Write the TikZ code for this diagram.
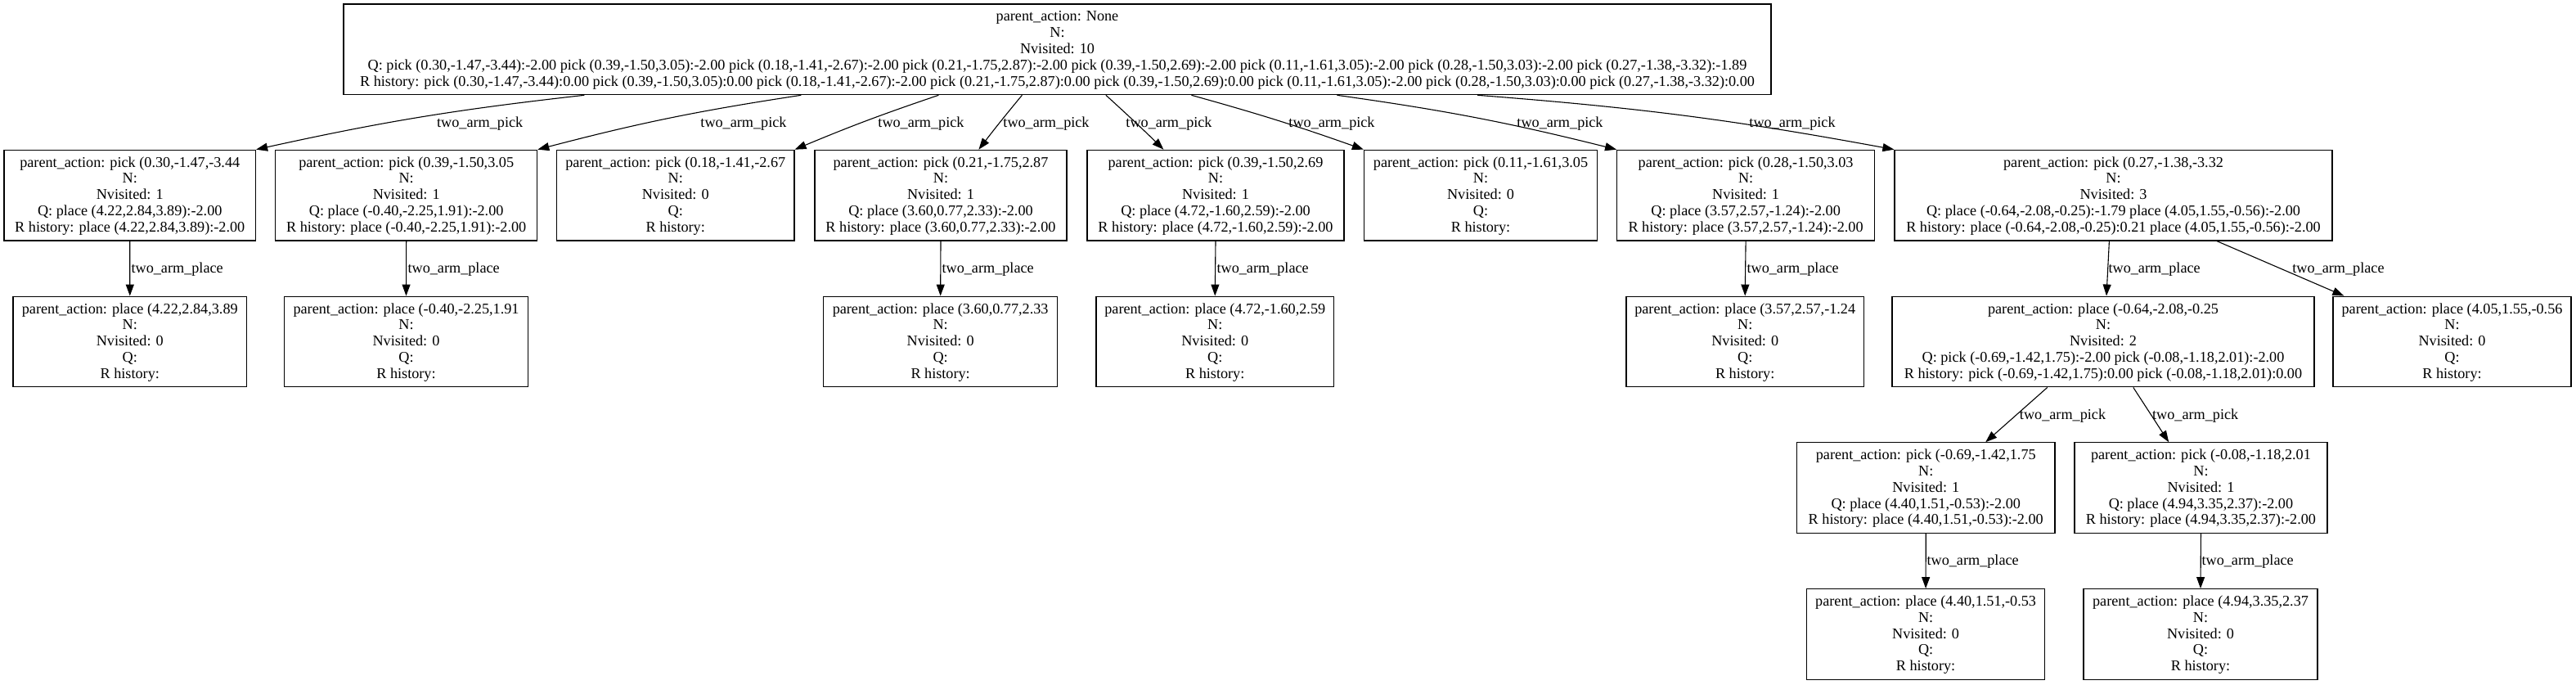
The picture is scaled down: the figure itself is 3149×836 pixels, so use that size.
\documentclass[tikz,border=0pt]{standalone}
\usepackage{fontspec}
\setmainfont{Liberation Serif}
\usetikzlibrary{arrows.meta,calc}
\newcommand{\rowstrut}{\rule[-4.8pt]{0pt}{19.8pt}}
\newcommand{\ntext}[5]{\renewcommand{\arraystretch}{0.5}\begin{tabular}{@{}c@{}}\rowstrut #1\\\rowstrut #2\\\rowstrut #3\\\rowstrut #4\\\rowstrut #5\end{tabular}}
\tikzset{
  box/.style={draw=black, line width=1.2pt, inner sep=0pt, minimum height=110.7pt,
    font=\fontsize{18.2pt}{19.8pt}\selectfont},
  edge/.style={draw=black, line width=1.1pt, -{Triangle[length=14pt,width=10pt]}},
  lbl/.style={inner sep=0pt, font=\fontsize{18.2pt}{19.8pt}\selectfont},
  lblw/.style={lbl, anchor=west}
}
\begin{document}
\begin{tikzpicture}[x=1pt,y=-1pt]
\useasboundingbox (0,0) rectangle (3149,836);
% root
\node[box, minimum width=1745pt] (root) at (1292.5,60.35) {\ntext{parent\_action: None}{N:}{Nvisited: 10}{Q: pick (0.30,-1.47,-3.44):-2.00 pick (0.39,-1.50,3.05):-2.00 pick (0.18,-1.41,-2.67):-2.00 pick (0.21,-1.75,2.87):-2.00 pick (0.39,-1.50,2.69):-2.00 pick (0.11,-1.61,3.05):-2.00 pick (0.28,-1.50,3.03):-2.00 pick (0.27,-1.38,-3.32):-1.89}{R history: pick (0.30,-1.47,-3.44):0.00 pick (0.39,-1.50,3.05):0.00 pick (0.18,-1.41,-2.67):-2.00 pick (0.21,-1.75,2.87):0.00 pick (0.39,-1.50,2.69):0.00 pick (0.11,-1.61,3.05):-2.00 pick (0.28,-1.50,3.03):0.00 pick (0.27,-1.38,-3.32):0.00}};
% row 1
\node[box, minimum width=307.5pt] (n1) at (158.75,238.65) {\ntext{parent\_action: pick (0.30,-1.47,-3.44}{N:}{Nvisited: 1}{Q: place (4.22,2.84,3.89):-2.00}{R history: place (4.22,2.84,3.89):-2.00}};
\node[box, minimum width=320pt] (n2) at (496.7,238.65) {\ntext{parent\_action: pick (0.39,-1.50,3.05}{N:}{Nvisited: 1}{Q: place (-0.40,-2.25,1.91):-2.00}{R history: place (-0.40,-2.25,1.91):-2.00}};
\node[box, minimum width=290.5pt] (n3) at (825.75,238.65) {\ntext{parent\_action: pick (0.18,-1.41,-2.67}{N:}{Nvisited: 0}{Q:}{R history:}};
\node[box, minimum width=308pt] (n4) at (1150,238.65) {\ntext{parent\_action: pick (0.21,-1.75,2.87}{N:}{Nvisited: 1}{Q: place (3.60,0.77,2.33):-2.00}{R history: place (3.60,0.77,2.33):-2.00}};
\node[box, minimum width=314pt] (n5) at (1486,238.65) {\ntext{parent\_action: pick (0.39,-1.50,2.69}{N:}{Nvisited: 1}{Q: place (4.72,-1.60,2.59):-2.00}{R history: place (4.72,-1.60,2.59):-2.00}};
\node[box, minimum width=285pt] (n6) at (1810,238.65) {\ntext{parent\_action: pick (0.11,-1.61,3.05}{N:}{Nvisited: 0}{Q:}{R history:}};
\node[box, minimum width=314.8pt] (n7) at (2134.1,238.65) {\ntext{parent\_action: pick (0.28,-1.50,3.03}{N:}{Nvisited: 1}{Q: place (3.57,2.57,-1.24):-2.00}{R history: place (3.57,2.57,-1.24):-2.00}};
\node[box, minimum width=535pt] (n8) at (2583.5,238.65) {\ntext{parent\_action: pick (0.27,-1.38,-3.32}{N:}{Nvisited: 3}{Q: place (-0.64,-2.08,-0.25):-1.79 place (4.05,1.55,-0.56):-2.00}{R history: place (-0.64,-2.08,-0.25):0.21 place (4.05,1.55,-0.56):-2.00}};
% row 2
\node[box, minimum width=285.6pt] (m1) at (158.8,417.5) {\ntext{parent\_action: place (4.22,2.84,3.89}{N:}{Nvisited: 0}{Q:}{R history:}};
\node[box, minimum width=297.8pt] (m2) at (496.5,417.5) {\ntext{parent\_action: place (-0.40,-2.25,1.91}{N:}{Nvisited: 0}{Q:}{R history:}};
\node[box, minimum width=285.7pt] (m4) at (1149.65,417.5) {\ntext{parent\_action: place (3.60,0.77,2.33}{N:}{Nvisited: 0}{Q:}{R history:}};
\node[box, minimum width=290.5pt] (m5) at (1485.25,417.5) {\ntext{parent\_action: place (4.72,-1.60,2.59}{N:}{Nvisited: 0}{Q:}{R history:}};
\node[box, minimum width=290.4pt] (m7) at (2133.2,417.5) {\ntext{parent\_action: place (3.57,2.57,-1.24}{N:}{Nvisited: 0}{Q:}{R history:}};
\node[box, minimum width=516pt] (m8a) at (2571,417.5) {\ntext{parent\_action: place (-0.64,-2.08,-0.25}{N:}{Nvisited: 2}{Q: pick (-0.69,-1.42,1.75):-2.00 pick (-0.08,-1.18,2.01):-2.00}{R history: pick (-0.69,-1.42,1.75):0.00 pick (-0.08,-1.18,2.01):0.00}};
\node[box, minimum width=291pt] (m8b) at (2997.5,417.5) {\ntext{parent\_action: place (4.05,1.55,-0.56}{N:}{Nvisited: 0}{Q:}{R history:}};
% row 3
\node[box, minimum width=315.5pt] (p1) at (2354.25,596.2) {\ntext{parent\_action: pick (-0.69,-1.42,1.75}{N:}{Nvisited: 1}{Q: place (4.40,1.51,-0.53):-2.00}{R history: place (4.40,1.51,-0.53):-2.00}};
\node[box, minimum width=309.1pt] (p2) at (2690.45,596.2) {\ntext{parent\_action: pick (-0.08,-1.18,2.01}{N:}{Nvisited: 1}{Q: place (4.94,3.35,2.37):-2.00}{R history: place (4.94,3.35,2.37):-2.00}};
% row 4
\node[box, minimum width=290.8pt] (q1) at (2354.1,775) {\ntext{parent\_action: place (4.40,1.51,-0.53}{N:}{Nvisited: 0}{Q:}{R history:}};
\node[box, minimum width=286pt] (q2) at (2690,775) {\ntext{parent\_action: place (4.94,3.35,2.37}{N:}{Nvisited: 0}{Q:}{R history:}};
% edge start points on root
\coordinate (r1) at ($(root.south west)+(295,0)$);
\coordinate (r2) at ($(root.south west)+(560,0)$);
\coordinate (r3) at ($(root.south west)+(728,0)$);
\coordinate (r4) at ($(root.south west)+(830,0)$);
\coordinate (r5) at ($(root.south west)+(932.5,0)$);
\coordinate (r6) at ($(root.south west)+(1037,0)$);
\coordinate (r7) at ($(root.south west)+(1215,0)$);
\coordinate (r8) at ($(root.south west)+(1386.7,0)$);
% root edges
\draw[edge] (r1) to[bend right=3] (n1.north east) node[lbl, at={(586.7,151)}] {two\_arm\_pick};
\draw[edge] (r2) to[bend right=3] (n2.north east) node[lbl, at={(909,151)}] {two\_arm\_pick};
\draw[edge] (r3) to[bend right=2] (n3.north east) node[lbl, at={(1126,151)}] {two\_arm\_pick};
\draw[edge] (r4) to[bend right=1] ($(n4.north west)+(201,0)$) node[lbl, at={(1279,151)}] {two\_arm\_pick};
\draw[edge] (r5) to[bend left=1] ($(n5.north west)+(94,0)$) node[lbl, at={(1429,151)}] {two\_arm\_pick};
\draw[edge] (r6) to[bend left=2] (n6.north west) node[lbl, at={(1628,151)}] {two\_arm\_pick};
\draw[edge] (r7) to[bend left=3] (n7.north west) node[lbl, at={(1907,151)}] {two\_arm\_pick};
\draw[edge] (r8) to[bend left=3] (n8.north west) node[lbl, at={(2191,151)}] {two\_arm\_pick};
% row1 -> row2
\draw[edge] (n1.south) -- (m1.north) node[lblw, at={(160,329)}] {two\_arm\_place};
\draw[edge] (n2.south) -- (m2.north) node[lblw, at={(498,329)}] {two\_arm\_place};
\draw[edge] (n4.south) -- (m4.north) node[lblw, at={(1151,329)}] {two\_arm\_place};
\draw[edge] (n5.south) -- (m5.north) node[lblw, at={(1487,329)}] {two\_arm\_place};
\draw[edge] (n7.south) -- (m7.north) node[lblw, at={(2135,329)}] {two\_arm\_place};
\draw[edge] ($(n8.south west)+(263,0)$) -- ($(m8a.north west)+(262.6,0)$) node[lblw, at={(2577,329)}] {two\_arm\_place};
\draw[edge] ($(n8.south west)+(394.6,0)$) -- ($(m8b.north west)+(14,0)$) node[lbl, at={(2858.5,329)}] {two\_arm\_place};
% row2 -> row3
\draw[edge] ($(m8a.south west)+(190.3,0)$) -- ($(p1.north west)+(231.3,0)$) node[lbl, at={(2521.5,507.7)}] {two\_arm\_pick};
\draw[edge] ($(m8a.south west)+(295.4,0)$) -- ($(p2.north west)+(115.9,0)$) node[lbl, at={(2683.7,507.7)}] {two\_arm\_pick};
% row3 -> row4
\draw[edge] (p1.south) -- (q1.north) node[lblw, at={(2355,686)}] {two\_arm\_place};
\draw[edge] (p2.south) -- (q2.north) node[lblw, at={(2691,686)}] {two\_arm\_place};
\end{tikzpicture}
\end{document}
